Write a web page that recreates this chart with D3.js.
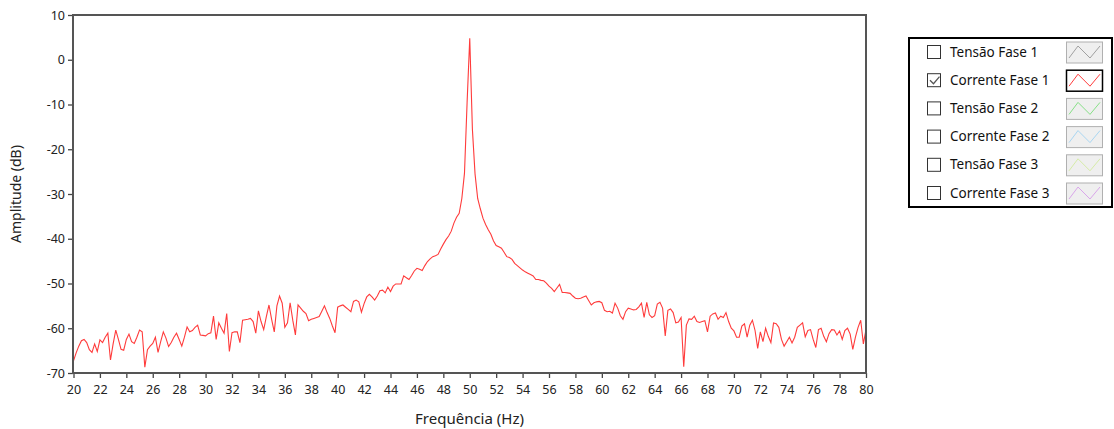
<!DOCTYPE html>
<html>
<head>
<meta charset="utf-8">
<script src="https://cdn.jsdelivr.net/npm/d3@7"></script>
<style>
  body { margin: 0; background: #fff; }
  text { font-family: "Noto Sans", "Open Sans", sans-serif; }
</style>
</head>
<body>
<div id="grafico"></div>
<script>
// -----------------------------
// Datos (espectro de Corrente Fase 1, passo de 0.2 Hz)
// -----------------------------
const freqInicio = 20;
const freqPasso = 0.2;
const amplitudes = [
  -67.3, -65.5, -64.0, -62.8, -62.5, -63.2, -64.8, -65.4, -63.5, -65.2,
  -62.6, -63.2, -62.0, -61.1, -67.1, -63.5, -60.4, -62.5, -64.7, -64.9,
  -62.5, -61.3, -63.0, -63.4, -62.0, -60.4, -60.8, -68.7, -64.8, -64.0,
  -63.4, -62.0, -65.4, -63.0, -60.8, -62.2, -64.1, -63.2, -62.0, -61.1,
  -62.5, -64.0, -62.0, -59.7, -60.8, -60.5, -59.8, -59.3, -61.5, -61.6,
  -61.7, -61.2, -61.0, -57.3, -62.5, -58.8, -60.0, -61.1, -56.7, -65.2,
  -61.0, -60.8, -60.8, -63.2, -58.2, -58.1, -58.0, -57.8, -58.5, -61.1,
  -56.1, -58.5, -60.3, -57.4, -54.8, -58.0, -60.8, -55.0, -52.8, -54.4,
  -59.8, -58.8, -54.3, -58.2, -61.5, -54.8, -55.5, -56.2, -56.7, -58.3,
  -58.0, -57.8, -57.6, -57.4, -56.2, -55.0, -56.5, -57.8, -59.5, -61.0,
  -55.3, -55.0, -54.8, -55.3, -55.8, -56.3, -54.0, -53.7, -54.1, -56.4,
  -54.5, -53.0, -52.4, -53.0, -53.7, -52.8, -51.6, -51.5, -52.1, -50.8,
  -51.8, -50.6, -50.1, -50.1, -50.1, -48.3, -48.7, -49.1, -48.2, -47.2,
  -46.6, -46.8, -47.1, -46.0, -45.1, -44.5, -44.0, -43.8, -43.5, -42.3,
  -41.2, -40.2, -39.4, -38.3, -36.5, -35.2, -34.3, -31.0, -25.4, -9.5,
  4.8, -15.5, -25.5, -31.0, -33.3, -35.4, -36.8, -38.0, -39.0, -40.5,
  -41.5, -41.8, -42.1, -43.0, -44.0, -44.2, -44.6, -45.5, -46.0, -46.5,
  -47.0, -47.4, -47.7, -48.0, -48.3, -49.1, -49.1, -49.3, -49.4, -49.9,
  -50.6, -51.1, -51.8, -51.0, -50.2, -52.0, -52.0, -52.1, -52.2, -52.8,
  -53.3, -53.4, -53.3, -53.0, -52.8, -53.8, -54.8, -54.3, -54.1, -54.0,
  -54.3, -56.0, -56.3, -56.2, -56.6, -54.4, -55.5, -57.2, -58.0, -56.3,
  -55.5, -55.7, -55.9, -55.8, -55.2, -54.4, -57.6, -54.2, -57.0, -57.6,
  -57.2, -54.6, -54.2, -55.5, -61.7, -56.0, -55.7, -56.5, -58.8, -58.6,
  -57.6, -68.6, -59.3, -57.9, -58.0, -57.3, -58.5, -58.7, -58.5, -58.3,
  -60.8, -57.3, -56.8, -56.6, -58.0, -57.3, -57.6, -56.5, -58.5, -60.0,
  -60.6, -62.0, -62.0, -59.5, -59.0, -62.0, -59.3, -58.2, -60.5, -64.5,
  -60.8, -63.0, -60.0, -61.8, -63.2, -58.8, -59.0, -59.8, -62.5, -64.0,
  -63.0, -62.0, -63.3, -62.0, -59.8, -59.3, -58.8, -61.9, -60.5, -60.3,
  -62.5, -64.3, -60.3, -60.0, -61.8, -63.0, -61.2, -60.3, -60.4, -61.5,
  -60.6, -62.5, -60.5, -60.0, -61.3, -64.7, -62.0, -59.8, -58.2, -63.5,
  -60.3
];

const ticksX = d3.range(20, 81, 2);
const ticksY = [10, 0, -10, -20, -30, -40, -50, -60, -70];

// Legenda
const series = ["Tensão Fase 1", "Corrente Fase 1", "Tensão Fase 2", "Corrente Fase 2", "Tensão Fase 3", "Corrente Fase 3"];
const coresSeries = ["#a0a0a0", "#ff3b3b", "#86e086", "#a9d6f2", "#d6eca8", "#d9a6ea"];
const visiveis = [false, true, false, false, false, false];

// -----------------------------
// Gráfico
// -----------------------------
const width = 1114;
const height = 429;
const plot = { left: 73, right: 866, top: 15, bottom: 373 };

const svg = d3.select("#grafico")
  .append("svg")
  .attr("width", width)
  .attr("height", height);

const x = d3.scaleLinear().domain([20, 80]).range([plot.left + 0.5, plot.right]);
const y = d3.scaleLinear().domain([-70, 10]).range([plot.bottom, plot.top]);

// Eixos
const eixoX = svg.append("g")
  .attr("transform", `translate(0,${plot.bottom})`)
  .call(d3.axisBottom(x).tickValues(ticksX).tickSize(5).tickPadding(7).tickFormat(d => String(d)));

const eixoY = svg.append("g")
  .attr("transform", `translate(${plot.left},0)`)
  .call(d3.axisLeft(y).tickValues(ticksY).tickSize(5).tickPadding(3).tickFormat(d => String(d)));

[eixoX, eixoY].forEach(g => {
  g.select(".domain").remove();
  g.selectAll(".tick line").attr("stroke", "#444").attr("stroke-width", 1.3);
  g.selectAll(".tick text").attr("fill", "#222").style("font-size", "12.5px");
});

// Curva
const linha = d3.line()
  .x((d, i) => x(freqInicio + i * freqPasso))
  .y(d => y(d));

svg.append("path")
  .datum(amplitudes)
  .attr("fill", "none")
  .attr("stroke", coresSeries[1])
  .attr("stroke-width", 1.1)
  .attr("d", linha);

// Moldura do gráfico
svg.append("rect")
  .attr("x", plot.left)
  .attr("y", plot.top)
  .attr("width", plot.right - plot.left)
  .attr("height", plot.bottom - plot.top)
  .attr("fill", "none")
  .attr("stroke", "#555")
  .attr("stroke-width", 2);

// Títulos dos eixos
svg.append("text")
  .attr("x", (plot.left + plot.right) / 2)
  .attr("y", 424)
  .attr("text-anchor", "middle")
  .attr("fill", "#222")
  .style("font-size", "15px")
  .text("Frequência (Hz)");

svg.append("text")
  .attr("transform", `translate(21,${(plot.top + plot.bottom) / 2}) rotate(-90)`)
  .attr("text-anchor", "middle")
  .attr("fill", "#222")
  .style("font-size", "14px")
  .text("Amplitude (dB)");

// -----------------------------
// Legenda
// -----------------------------
const leg = svg.append("g");
leg.append("rect")
  .attr("x", 909).attr("y", 38)
  .attr("width", 203).attr("height", 169)
  .attr("fill", "#fff")
  .attr("stroke", "#000")
  .attr("stroke-width", 2);

series.forEach((nome, i) => {
  const cy = 52 + i * 28.2;
  const item = leg.append("g");

  item.append("rect")
    .attr("x", 927.5).attr("y", cy - 6.5)
    .attr("width", 13).attr("height", 13)
    .attr("fill", "#fff")
    .attr("stroke", "#333");

  if (visiveis[i]) {
    item.append("path")
      .attr("d", `M930,${cy} l3.5,3.5 l6,-7`)
      .attr("fill", "none")
      .attr("stroke", "#555")
      .attr("stroke-width", 1.3);
  }

  item.append("text")
    .attr("x", 950).attr("y", cy + 4.5)
    .attr("fill", "#111")
    .style("font-size", "13.5px")
    .text(nome);

  item.append("rect")
    .attr("x", 1066.5).attr("y", cy - 10)
    .attr("width", 36).attr("height", 21)
    .attr("fill", visiveis[i] ? "#fff" : "#efefef")
    .attr("stroke", visiveis[i] ? "#000" : "#b0b0b0")
    .attr("stroke-width", visiveis[i] ? 1.5 : 1);

  item.append("polyline")
    .attr("points", `1069,${cy + 6} 1078,${cy - 6} 1090,${cy + 6} 1100,${cy - 6}`)
    .attr("fill", "none")
    .attr("stroke", coresSeries[i])
    .attr("stroke-width", 1);
});
</script>
</body>
</html>
